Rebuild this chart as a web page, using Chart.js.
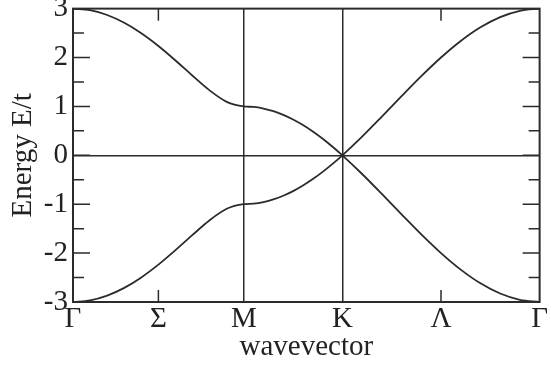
<!DOCTYPE html>
<html>
<head>
<meta charset="utf-8">
<script src="https://cdn.jsdelivr.net/npm/chart.js@4/dist/chart.umd.min.js"></script>
<style>
  html, body { margin: 0; padding: 0; background: #fff; }
  canvas { display: block; }
</style>
</head>
<body>
<canvas id="bands" width="551" height="369"></canvas>
<script>
// path length along Γ -> M -> K -> Γ (units of 1/a)
const kPath = [0, 0.3628, 0.7255, 1.0883, 1.4510, 1.8138, 2.1766, 2.5393, 2.9021, 3.2648, 3.6276,
  3.8370, 4.0465, 4.2559, 4.4654, 4.6748, 4.8842, 5.0937, 5.3031, 5.5126, 5.7220,
  6.1409, 6.5598, 6.9786, 7.3975, 7.8164, 8.2353, 8.6542, 9.0730, 9.4919, 9.9108];

const upperBand = [3.000, 2.967, 2.870, 2.711, 2.497, 2.236, 1.940, 1.628, 1.328, 1.094, 1.000,
  0.989, 0.956, 0.902, 0.827, 0.732, 0.618, 0.486, 0.338, 0.176, 0.000,
  0.382, 0.791, 1.209, 1.618, 2.000, 2.338, 2.618, 2.827, 2.956, 3.000];

const lowerBand = [-3.000, -2.967, -2.870, -2.711, -2.497, -2.236, -1.940, -1.628, -1.328, -1.094, -1.000,
  -0.989, -0.956, -0.902, -0.827, -0.732, -0.618, -0.486, -0.338, -0.176, 0.000,
  -0.382, -0.791, -1.209, -1.618, -2.000, -2.338, -2.618, -2.827, -2.956, -3.000];

const kTicks = [0, 1.8138, 3.6276, 5.7220, 7.8164, 9.9108];
const kLabels = ['Γ', 'Σ', 'M', 'K', 'Λ', 'Γ'];
const eMajor = [-3, -2, -1, 0, 1, 2, 3];
const eMinor = [-2.5, -1.5, -0.5, 0.5, 1.5, 2.5];

const K_INDEX = 20;
const ink = '#2b2b2b';
const serif = 'Liberation Serif, Times New Roman, serif';

// the two curves cross at K, so join each band with the other past K
function curve(a, b) {
  return kPath.map((x, i) => ({ x: x, y: i <= K_INDEX ? a[i] : b[i] }));
}

const frame = {
  id: 'frame',
  afterDraw(chart) {
    const { ctx, chartArea: a, scales } = chart;
    ctx.save();
    ctx.strokeStyle = ink;
    ctx.lineWidth = 2;
    ctx.strokeRect(a.left, a.top, a.right - a.left, a.bottom - a.top);

    ctx.lineWidth = 1.5;
    ctx.beginPath();
    const side = (v, len) => {
      const y = scales.y.getPixelForValue(v);
      ctx.moveTo(a.left, y); ctx.lineTo(a.left + len, y);
      ctx.moveTo(a.right, y); ctx.lineTo(a.right - len, y);
    };
    eMajor.forEach(v => side(v, 17));
    eMinor.forEach(v => side(v, 11));
    [kTicks[1], kTicks[4]].forEach(v => {
      const x = scales.x.getPixelForValue(v);
      ctx.moveTo(x, a.bottom); ctx.lineTo(x, a.bottom - 12);
      ctx.moveTo(x, a.top); ctx.lineTo(x, a.top + 12);
    });
    ctx.stroke();
    ctx.restore();
  }
};

new Chart(document.getElementById('bands'), {
  type: 'scatter',
  data: {
    datasets: [
      { data: curve(upperBand, lowerBand) },
      { data: curve(lowerBand, upperBand) }
    ]
  },
  options: {
    responsive: false,
    animation: false,
    showLine: true,
    layout: { padding: { left: 0, right: 9, top: 0, bottom: 0 } },
    elements: {
      point: { radius: 0 },
      line: { borderColor: ink, borderWidth: 1.8, cubicInterpolationMode: 'monotone', fill: false }
    },
    plugins: { legend: { display: false }, tooltip: { enabled: false } },
    scales: {
      x: {
        type: 'linear',
        min: kTicks[0],
        max: kTicks[kTicks.length - 1],
        afterBuildTicks: s => { s.ticks = kTicks.map(v => ({ value: v })); },
        afterFit: s => { s.height = 67; },
        border: { display: false },
        grid: {
          drawTicks: false,
          color: c => (c.index === 2 || c.index === 3) ? ink : 'transparent',
          lineWidth: 1.5
        },
        ticks: {
          padding: 3,
          maxRotation: 0,
          autoSkip: false,
          color: '#222',
          font: { family: serif, size: 29, lineHeight: 1 },
          callback: (v, i) => kLabels[i]
        },
        title: {
          display: true,
          text: 'wavevector',
          color: '#222',
          font: { family: serif, size: 29, lineHeight: 1.2 },
          padding: { top: 0, bottom: 4 }
        }
      },
      y: {
        min: -3,
        max: 3,
        afterBuildTicks: s => { s.ticks = eMajor.map(v => ({ value: v })); },
        afterFit: s => { s.width = 73; },
        border: { display: false },
        grid: {
          drawTicks: false,
          color: c => (c.tick && c.tick.value === 0) ? ink : 'transparent',
          lineWidth: 1.5
        },
        ticks: {
          padding: 5,
          color: '#222',
          font: { family: serif, size: 29, lineHeight: 0.25 }
        },
        title: {
          display: true,
          text: 'Energy E/t',
          color: '#222',
          font: { family: serif, size: 29, lineHeight: 1.2 },
          padding: { top: 6, bottom: 0 }
        }
      }
    }
  },
  plugins: [frame]
});
</script>
</body>
</html>
